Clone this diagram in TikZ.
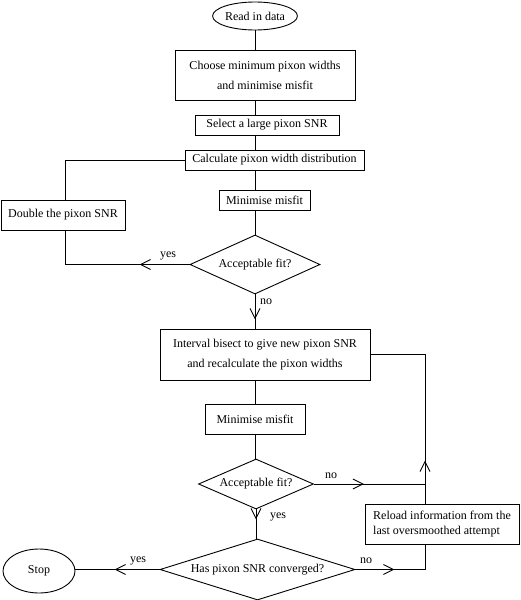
\documentclass[tikz,border=0pt]{standalone}
\usepackage{fontspec}
\setmainfont{Liberation Serif}
\usetikzlibrary{shapes.geometric,arrows.meta,decorations.markings}
\begin{document}
\begin{tikzpicture}[x=1pt,y=-1pt,
  line width=0.9pt,
  every node/.style={font=\fontsize{12}{20}\selectfont},
  box/.style={draw,rectangle,inner sep=0pt,align=center},
  oval/.style={draw,ellipse,inner sep=0pt},
  decide/.style={draw,diamond,inner sep=0pt,aspect=3.3},
  lbl/.style={inner sep=0pt},
  midarrow/.style={postaction={decorate},decoration={markings,
     mark=at position #1 with {\arrow{Straight Barb[length=10pt,width=10pt,line width=0.9pt]}}}}
]
\useasboundingbox (0,0) rectangle (520,600);
\coordinate (ax) at (255,0);
\coordinate (lx) at (65,0);
\coordinate (rx) at (425,0);

\node[oval,minimum width=81pt,minimum height=28pt] (read) at (255,16) {Read in data};
\node[box,minimum width=180pt,minimum height=50pt] (choose) at (265,75) {Choose minimum pixon widths\\and minimise misfit};
\node[box,minimum width=144pt,minimum height=20pt] (select) at (267,125) {Select a large pixon SNR};
\node[box,minimum width=179pt,minimum height=20pt] (calc) at (274.5,160) {Calculate pixon width distribution};
\node[box,minimum width=91pt,minimum height=20pt] (min1) at (264.5,200) {Minimise misfit};
\node[box,minimum width=124pt,minimum height=30pt] (double) at (63,215) {Double the pixon SNR};
\node[decide,minimum width=130pt,minimum height=59pt] (d1) at (255,264.5) {Acceptable fit?};
\node[box,minimum width=210pt,minimum height=51pt] (bisect) at (265,354.5) {Interval bisect to give new pixon SNR\\and recalculate the pixon widths};
\node[box,minimum width=100pt,minimum height=30pt] (min2) at (255,419) {Minimise misfit};
\node[decide,minimum width=115pt,minimum height=50pt] (d2) at (256,484) {Acceptable fit?};
\node[decide,minimum width=195pt,minimum height=61pt,aspect=3.4] (d3) at (257.5,569.5) {Has pixon SNR converged?};
\node[oval,minimum width=72pt,minimum height=44pt] (stop) at (39,571) {Stop};
\node[box,minimum width=154pt,minimum height=40pt,align=left,font=\fontsize{12}{15}\selectfont] (reload) at (442,524) {Reload information from the\\last oversmoothed attempt};

% main line
\draw (read.south) -- (read.south |- choose.north);
\draw (ax |- choose.south) -- (ax |- select.north);
\draw (ax |- select.south) -- (ax |- calc.north);
\draw (ax |- calc.south) -- (ax |- min1.north);
\draw (ax |- min1.south) -- (d1.north);
\draw[midarrow=25pt] (d1.south) -- (d1.south |- bisect.north);
\draw (ax |- bisect.south) -- (ax |- min2.north);
\draw (min2.south) -- (min2.south |- d2.north);
\draw[midarrow=10pt] (d2.south) -- (d2.south |- d3.north);

% left loop
\draw[midarrow=50pt] (d1.west) -| (lx |- double.south);
\draw (lx |- double.north) |- (calc.west);

% right loop
\draw[midarrow=50pt] (d2.east) -- (d2.east -| rx);
\draw[midarrow=39pt] (d3.east) -| (rx |- reload.south);
\draw[midarrow=43pt] (rx |- reload.north) |- (bisect.east);
\draw[midarrow=45pt] (d3.west) -- (d3.west -| stop.east);

% labels
\node[lbl] (l1) at (168,256) {yes};
\node[lbl] (l2) at (266,302) {no};
\node[lbl] (l3) at (331,476) {no};
\node[lbl] (l4) at (278,517) {yes};
\node[lbl] (l5) at (138,561) {yes};
\node[lbl] (l6) at (366,561) {no};
\end{tikzpicture}
\end{document}
